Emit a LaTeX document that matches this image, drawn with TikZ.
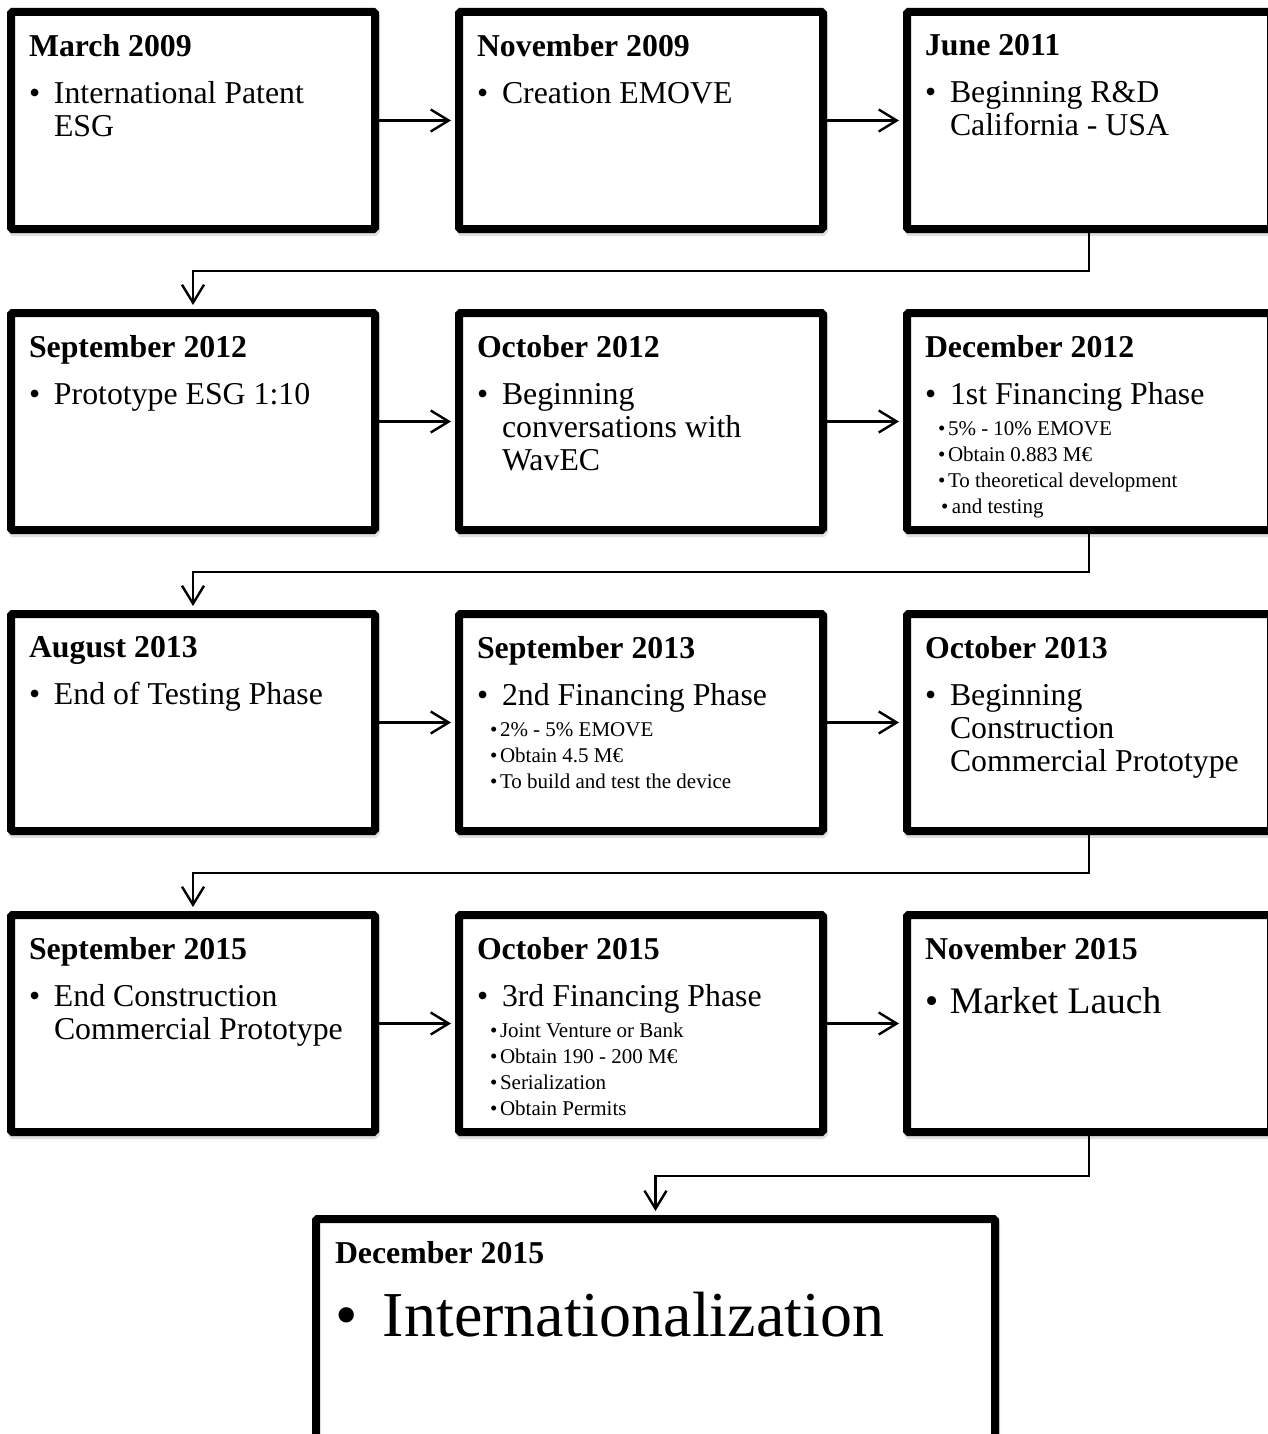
\documentclass[tikz,border=0pt]{standalone}
\usepackage{fontspec}
\setmainfont{Liberation Serif}
\usetikzlibrary{
  arrows.meta,
  positioning,
  shadows
}
\tikzset{
  eventnode/.style={draw,fill=white,line width=8pt,rounded corners=1.5pt,inner xsep=18pt,inner ysep=22.5pt,minimum width=364pt,minimum height=217pt,drop shadow={shadow xshift=1pt,shadow yshift=-3pt,opacity=.2,draw=black!60,line width=8pt}},
  steparrow/.style={-{Straight Barb[length=18pt,width=22pt]},line width=2.4pt,shorten >=4pt}
}
\newcommand{\evbox}[1]{\parbox[t][172pt][t]{328pt}{\raggedright #1}}
\newcommand{\evhead}[2][14pt]{{\fontsize{31.8}{33}\selectfont\bfseries\rule{0pt}{21pt}#2\par}\vspace{#1}}
\newcommand{\evitem}[2][\fontsize{31.8}{33}\selectfont]{\par{#1\hangindent=25pt\hangafter=1\noindent\makebox[25pt][l]{\textbullet}#2\par}}
\newcommand{\evsub}[2][13pt]{\par{\fontsize{21}{26}\selectfont\noindent\hspace*{#1}\makebox[10pt][l]{\textbullet}#2\par}}

\begin{document}
\begin{tikzpicture}
\fill[white] (0,0) rectangle (1268pt,-1434pt);
\useasboundingbox (0,0) rectangle (1268pt,-1434pt);
% row 1
\node[eventnode,anchor=north west] (mar09) at (7pt,-8pt) {\evbox{\evhead{March 2009}\evitem{International Patent\newline ESG}}};
\node[eventnode,right=76pt of mar09] (nov09) {\evbox{\evhead{November 2009}\evitem{Creation EMOVE}}};
\node[eventnode,right=76pt of nov09] (jun11) {\evbox{\evhead{June 2011}\evitem{Beginning R\&D\newline California - USA}}};
% row 2
\node[eventnode,below=76pt of mar09] (sep12) {\evbox{\evhead{September 2012}\evitem{Prototype ESG 1:10}}};
\node[eventnode,right=76pt of sep12] (oct12) {\evbox{\evhead{October 2012}\evitem{Beginning\newline conversations with\newline WavEC}}};
\node[eventnode,right=76pt of oct12] (dec12) {\evbox{\evhead{December 2012}\evitem{1st Financing Phase}\vspace{4.5pt}
  \evsub{5\% - 10\% EMOVE}\evsub{Obtain 0.883 M€}\evsub{To theoretical development}\evsub[16pt]{\hspace*{1pt}and testing}}};
% row 3
\node[eventnode,below=76pt of sep12] (aug13) {\evbox{\evhead{August 2013}\evitem{End of Testing Phase}}};
\node[eventnode,right=76pt of aug13] (sep13) {\evbox{\evhead{September 2013}\evitem{2nd Financing Phase}\vspace{4.5pt}
  \evsub{2\% - 5\% EMOVE}\evsub{Obtain 4.5 M€}\evsub{To build and test the device}}};
\node[eventnode,right=76pt of sep13] (oct13) {\evbox{\evhead{October 2013}\evitem{Beginning\newline Construction\newline Commercial Prototype}}};
% row 4
\node[eventnode,below=76pt of aug13] (sep15) {\evbox{\evhead{September 2015}\evitem{End Construction\newline Commercial Prototype}}};
\node[eventnode,right=76pt of sep15] (oct15) {\evbox{\evhead{October 2015}\evitem{3rd Financing Phase}\vspace{4.5pt}
  \evsub{Joint Venture or Bank}\evsub{Obtain 190 - 200 M€}\evsub{Serialization}\evsub{Obtain Permits}}};
\node[eventnode,right=76pt of oct15] (nov15) {\evbox{\evhead{November 2015}\evitem[\fontsize{37.5}{40}\selectfont]{Market Lauch}}};
% last one
\node[eventnode,minimum width=679pt,minimum height=260pt,inner xsep=19pt,below=79pt of oct15,xshift=14.5pt] (dec15) {\parbox[t][215pt][t]{641pt}{\raggedright\evhead[3pt]{December 2015}%
  {\fontsize{64}{70}\selectfont\noindent\makebox[48pt][l]{\textbullet}Internationalization\par}}};
% arrows
\draw[steparrow] (mar09) -- (nov09);
\draw[steparrow] (nov09) -- (jun11);
\draw[steparrow] (sep12) -- (oct12);
\draw[steparrow] (oct12) -- (dec12);
\draw[steparrow] (aug13) -- (sep13);
\draw[steparrow] (sep13) -- (oct13);
\draw[steparrow] (sep15) -- (oct15);
\draw[steparrow] (oct15) -- (nov15);
\draw[steparrow] (jun11.south) -- ++(0,-38pt) -| (sep12.north);
\draw[steparrow] (dec12.south) -- ++(0,-38pt) -| (aug13.north);
\draw[steparrow] (oct13.south) -- ++(0,-38pt) -| (sep15.north);
\draw[steparrow] (nov15.south) -- ++(0,-40pt) -| (dec15.north);
\end{tikzpicture}
\end{document}
